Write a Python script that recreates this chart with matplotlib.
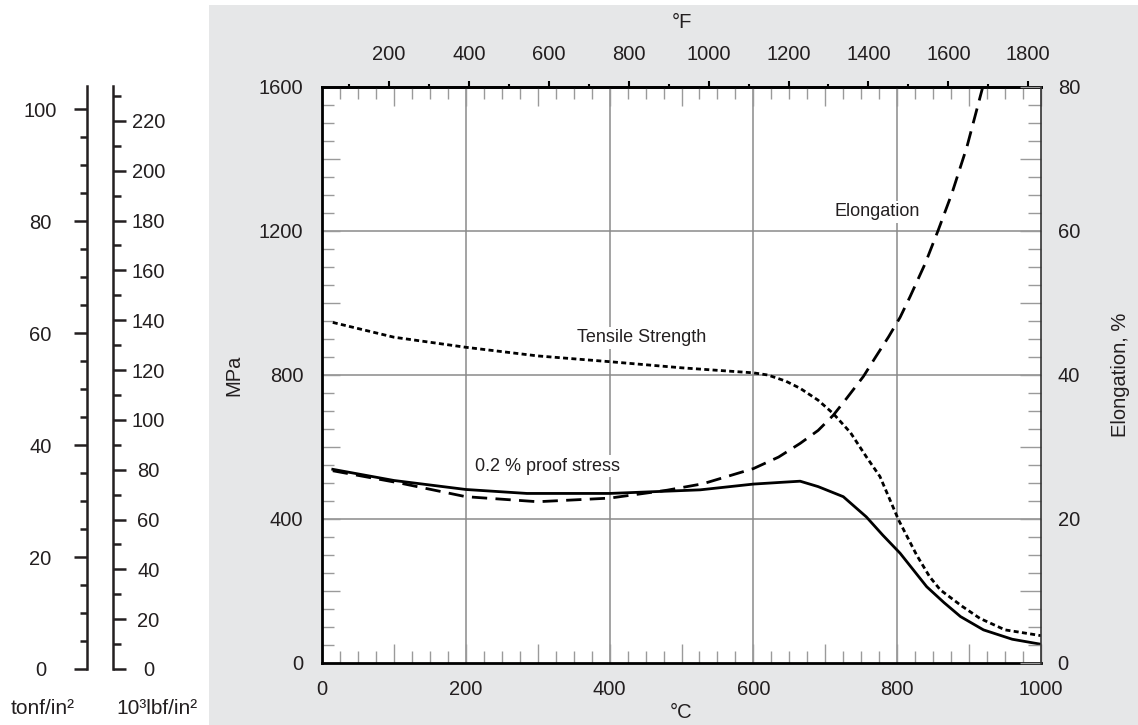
import matplotlib
matplotlib.use("Agg")
import matplotlib.pyplot as plt
from matplotlib.patches import Rectangle
from matplotlib.ticker import MultipleLocator, FuncFormatter

plt.rcParams['font.family'] = ['Liberation Sans', 'DejaVu Sans']

ink = '#231f20'
gridc = '#8a8a8a'

# values, temperature in deg C
t_tensile = [15, 100, 200, 300, 400, 500, 600, 620, 645, 665, 690, 711, 735, 757, 776,
             802, 827, 845, 860, 890, 915, 950, 1000]
tensile = [946, 905, 877, 853, 837, 820, 806, 800, 783, 763, 730, 693, 640, 573, 518,
           397, 300, 240, 203, 158, 124, 92, 76]

t_proof = [15, 100, 200, 285, 400, 526, 600, 640, 665, 690, 725, 757, 780, 804, 841,
           865, 888, 920, 960, 1000]
proof = [538, 507, 482, 471, 471, 481, 497, 502, 505, 490, 462, 406, 355, 305, 212,
         168, 129, 92, 66, 52]

t_elong = [15, 108, 200, 300, 400, 480, 530, 600, 635, 665, 690, 711, 730, 753, 770,
           788, 804, 818, 839, 857, 876, 897, 919]
elong = [26.7, 25.0, 23.1, 22.4, 22.9, 24.0, 24.9, 27.0, 28.6, 30.5, 32.3, 34.4, 36.8,
         39.8, 42.5, 45.3, 48.0, 50.9, 55.5, 60.1, 65.2, 71.7, 80.0]

mpa_lim = 1600
elong_lim = 80
tonf_lim = 104.2
ksi_lim = 234.0


def c2f(c):
    return c * 9.0 / 5.0 + 32


def f2c(f):
    return (f - 32) * 5.0 / 9.0


def every(step):
    return FuncFormatter(lambda v, p: '%d' % round(v) if abs(v / step - round(v / step)) < 1e-6 else '')


W, H = 1138, 725
fig = plt.figure(figsize=(W / 100, H / 100), dpi=100)
fig.patches.append(Rectangle((209 / W, 0), 1 - 209 / W, 720 / H, transform=fig.transFigure,
                             facecolor='#e6e7e8', edgecolor='none', zorder=-10))

# ==== main chart ====
ax = fig.add_axes([322 / W, 1 - 663 / H, 719 / W, 576 / H])
ax.set_facecolor('white')
ax.set_xlim(0, 1000)
ax.set_ylim(0, mpa_lim)

for x in [200, 400, 600, 800]:
    ax.axvline(x, color=gridc, lw=1.1, zorder=1)
for y in [400, 800, 1200]:
    ax.axhline(y, color=gridc, lw=1.1, zorder=1)

ax.plot(t_tensile, tensile, color='black', lw=2.0, dashes=(1.8, 1.2), zorder=4)
ax.plot(t_proof, proof, color='black', lw=2.0, zorder=4)

ax.xaxis.set_major_locator(MultipleLocator(100))
ax.xaxis.set_minor_locator(MultipleLocator(25))
ax.xaxis.set_major_formatter(every(200))
ax.yaxis.set_major_locator(MultipleLocator(200))
ax.yaxis.set_minor_locator(MultipleLocator(50))
ax.yaxis.set_major_formatter(every(400))
ax.tick_params(axis='x', which='major', direction='in', length=13.5, width=1, color='#9a9a9a',
               top=True, labelsize=14.5, labelcolor=ink, pad=12)
ax.tick_params(axis='x', which='minor', direction='in', length=8.5, width=1, color='#9a9a9a', top=True)
ax.tick_params(axis='y', which='major', direction='in', length=13, width=1, color='#9a9a9a',
               labelsize=14.5, labelcolor=ink, pad=13.5)
ax.tick_params(axis='y', which='minor', direction='in', length=8.5, width=1, color='#9a9a9a')
for s in ['left', 'bottom', 'top']:
    ax.spines[s].set_linewidth(2.0)
    ax.spines[s].set_color('black')
ax.spines['right'].set_visible(False)

ax.set_xlabel('°C', fontsize=14.5, color=ink, labelpad=3)
ax.set_ylabel('MPa', fontsize=14.5, color=ink, labelpad=11)

box = dict(facecolor='white', edgecolor='none', pad=2)
ax.text(444, 903, 'Tensile Strength', fontsize=13, color=ink, ha='center', va='center', bbox=box, zorder=3)
ax.text(314, 547, '0.2 % proof stress', fontsize=13, color=ink, ha='center', va='center', bbox=box, zorder=3)
ax.text(772, 1253, 'Elongation', fontsize=13, color=ink, ha='center', va='center', bbox=box, zorder=3)

# elongation on the right scale
ax2 = ax.twinx()
ax2.set_ylim(0, elong_lim)
ax2.plot(t_elong, elong, color='black', lw=2.0, dashes=(5.5, 3.0), zorder=4)
ax2.yaxis.set_major_locator(MultipleLocator(10))
ax2.yaxis.set_minor_locator(MultipleLocator(2.5))
ax2.yaxis.set_major_formatter(every(20))
ax2.tick_params(axis='y', which='major', direction='in', length=15, width=1, color='#9a9a9a',
                labelsize=14.5, labelcolor=ink, pad=12)
ax2.tick_params(axis='y', which='minor', direction='in', length=9.4, width=1, color='#9a9a9a')
for s in ['left', 'bottom', 'top']:
    ax2.spines[s].set_visible(False)
ax2.spines['right'].set_color('#333333')
ax2.spines['right'].set_linewidth(1.2)
ax2.set_ylabel('Elongation, %', fontsize=14.5, color=ink, labelpad=22)

# fahrenheit on top
axf = ax.secondary_xaxis('top', functions=(c2f, f2c))
axf.xaxis.set_major_locator(MultipleLocator(200))
axf.xaxis.set_minor_locator(MultipleLocator(100))
axf.tick_params(axis='x', which='major', direction='out', length=4.5, width=1.5, color='black',
                labelsize=14.5, labelcolor=ink, pad=12)
axf.tick_params(axis='x', which='minor', direction='out', length=2, width=1.5, color='black')
axf.spines['top'].set_linewidth(2.0)
axf.set_xlabel('°F', fontsize=14.5, color=ink, labelpad=12)

# ==== imperial stress scales on the left ====
bottom = 1 - 669 / H
height = 583 / H

axt = fig.add_axes([87 / W, bottom, 0.01, height])
axt.set_ylim(0, tonf_lim)
axt.patch.set_visible(False)
for s in ['right', 'top', 'bottom']:
    axt.spines[s].set_visible(False)
axt.spines['left'].set_linewidth(1.8)
axt.spines['left'].set_color(ink)
axt.set_xticks([])
axt.yaxis.set_major_locator(MultipleLocator(20))
axt.yaxis.set_minor_locator(MultipleLocator(5))
axt.tick_params(axis='y', which='major', direction='out', length=9.5, width=1.8, color=ink,
                labelsize=14.5, labelcolor=ink, pad=24)
axt.tick_params(axis='y', which='minor', direction='out', length=5, width=1.8, color=ink)
for lab in axt.get_yticklabels():
    lab.set_horizontalalignment('center')

axk = fig.add_axes([113 / W - 0.01, bottom, 0.01, height])
axk.set_ylim(0, ksi_lim)
axk.patch.set_visible(False)
for s in ['left', 'top', 'bottom']:
    axk.spines[s].set_visible(False)
axk.spines['right'].set_linewidth(1.8)
axk.spines['right'].set_color(ink)
axk.set_xticks([])
axk.yaxis.tick_right()
axk.yaxis.set_major_locator(MultipleLocator(20))
axk.yaxis.set_minor_locator(MultipleLocator(10))
axk.tick_params(axis='y', which='major', direction='out', length=9.5, width=1.8, color=ink,
                labelsize=14.5, labelcolor=ink, pad=16)
axk.tick_params(axis='y', which='minor', direction='out', length=5.5, width=1.8, color=ink)
for lab in axk.get_yticklabels():
    lab.set_horizontalalignment('center')

fig.text(43 / W, 1 - 708 / H, 'tonf/in²', fontsize=15, color=ink, ha='center', va='center')
fig.text(157 / W, 1 - 708 / H, '10³lbf/in²', fontsize=15, color=ink, ha='center', va='center')

fig.savefig('out.png', dpi=100)
